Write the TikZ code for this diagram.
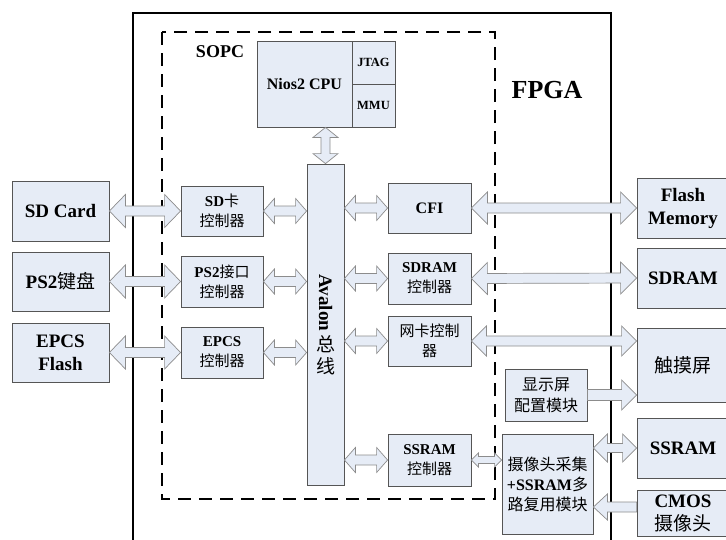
\documentclass[tikz,border=0pt]{standalone}
\usepackage{fontspec}
\setmainfont{Liberation Serif}
\newfontfamily\cjk{Noto Sans CJK SC}
\usepackage{graphicx}
\usepackage{xcolor}
\usetikzlibrary{calc}

\definecolor{boxfill}{HTML}{E6ECF6}
\definecolor{boxline}{HTML}{555555}
\definecolor{arrline}{HTML}{8C8C8C}

\newcommand{\zhtxt}[1]{{\cjk\mdseries #1}}
\newcommand{\fsz}[2]{\fontsize{#1}{#2}\selectfont}

% block arrows: ends, shaft half width, head half width, head length
\newcommand{\dblarrow}[5]{%
  \draw[blockarrow] (#1) -- ($(#1)!#5!(#2)!#4!90:(#2)$)
    -- ($(#1)!#5!(#2)!#3!90:(#2)$) -- ($(#2)!#5!(#1)!#3!-90:(#1)$)
    -- ($(#2)!#5!(#1)!#4!-90:(#1)$) -- (#2)
    -- ($(#2)!#5!(#1)!#4!90:(#1)$) -- ($(#2)!#5!(#1)!#3!90:(#1)$)
    -- ($(#1)!#5!(#2)!#3!-90:(#2)$) -- ($(#1)!#5!(#2)!#4!-90:(#2)$) -- cycle;}
\newcommand{\onearrow}[5]{%
  \draw[blockarrow] ($(#1)!#3!90:(#2)$) -- ($(#2)!#5!(#1)!#3!-90:(#1)$)
    -- ($(#2)!#5!(#1)!#4!-90:(#1)$) -- (#2)
    -- ($(#2)!#5!(#1)!#4!90:(#1)$) -- ($(#2)!#5!(#1)!#3!90:(#1)$)
    -- ($(#1)!#3!-90:(#2)$) -- cycle;}

\begin{document}
\begin{tikzpicture}[x=1pt, y=-1pt,
    module/.style={rectangle, draw=boxline, fill=boxfill, line width=0.8pt, inner sep=0pt, align=center, font=\bfseries\fsz{15}{20}},
    ctrl/.style={module, minimum width=82pt, minimum height=50pt},
    device/.style={module, minimum width=97pt, minimum height=60pt, font=\bfseries\fsz{19}{23}},
    blockarrow/.style={draw=arrline, fill=boxfill, line width=0.7pt, line join=miter}
]
\useasboundingbox (0,0) rectangle (726,539);
\clip (0,0) rectangle (726,539);

% FPGA and SOPC boundaries
\draw[line width=2.2pt] (133,560) -- (133,13) -- (611,13) -- (611,560);
\draw[line width=1.3pt, dash pattern=on 13pt off 8pt] (162,32) rectangle (495,499);
\node[font=\bfseries\fsz{18}{20}] (sopc) at (220,52) {SOPC};
\node[font=\bfseries\fsz{26}{30}] (fpga) at (547,90) {FPGA};

% CPU
\node[module, minimum width=95pt, minimum height=86pt, font=\bfseries\fsz{16}{20}] (nios) at (304.5,84) {Nios2 CPU};
\node[module, minimum width=43pt, minimum height=43pt, font=\bfseries\fsz{12.5}{15}] (jtag) at (373.5,62.5) {JTAG};
\node[module, minimum width=43pt, minimum height=43pt, font=\bfseries\fsz{12.5}{15}] (mmu) at (373.5,105.5) {MMU};

% Avalon bus
\node[module, minimum width=37pt, minimum height=321pt, font=\bfseries\fsz{19}{22}] (avalon) at (325.5,324.5)
    {\rotatebox{-90}{Avalon}\\[3pt]\zhtxt{总}\\\zhtxt{线}};

% Devices outside, left
\node[device] (sdcard) at (60.5,211) {SD Card};
\node[device, minimum height=59pt] (ps2kb) at (60.5,281.5) {PS2\zhtxt{键盘}};
\node[device, minimum height=59pt] (epcsfl) at (60.5,352.5) {EPCS\\Flash};

% Controllers, left
\node[ctrl] (sdctrl) at (222,211) {SD\zhtxt{卡}\\\zhtxt{控制器}};
\node[ctrl, minimum height=51pt] (ps2ctrl) at (222,281.5) {PS2\zhtxt{接口}\\\zhtxt{控制器}};
\node[ctrl, minimum height=51pt] (epcsctrl) at (222,352.5) {EPCS\\\zhtxt{控制器}};

% Controllers, right
\node[ctrl, minimum width=83pt, font=\bfseries\fsz{16}{20}] (cfi) at (429.5,208) {CFI};
\node[ctrl, minimum width=83pt, minimum height=51pt] (sdramctrl) at (429.5,278.5) {SDRAM\\\zhtxt{控制器}};
\node[ctrl, minimum width=83pt] (nicctrl) at (429.5,341) {\zhtxt{网卡控制}\\\zhtxt{器}};
\node[ctrl, minimum width=83pt, minimum height=52pt] (ssramctrl) at (429.5,460) {SSRAM\\\zhtxt{控制器}};

% Modules outside SOPC
\node[ctrl, minimum height=52pt, font=\bfseries\fsz{16}{21}] (disp) at (546,395) {\zhtxt{显示屏}\\\zhtxt{配置模块}};
\node[ctrl, minimum width=91pt, minimum height=100pt, font=\bfseries\fsz{16}{20}] (cam) at (547.5,484)
    {\zhtxt{摄像头采集}\\+SSRAM\zhtxt{多}\\\zhtxt{路复用模块}};

% Devices outside, right
\node[device, minimum width=92pt] (flash) at (683,208) {Flash\\Memory};
\node[device, minimum width=92pt] (sdram) at (683,278) {SDRAM};
\node[device, minimum width=92pt, minimum height=74pt] (touch) at (683,365) {\zhtxt{触摸屏}};
\node[device, minimum width=92pt] (ssram) at (683,448) {SSRAM};
\node[device, minimum width=92pt, minimum height=46pt] (cmos) at (683,513) {CMOS\\\zhtxt{摄像头}};

% Arrow ends
\coordinate (avL1) at (avalon.west |- sdctrl.east);
\coordinate (avL2) at (avalon.west |- ps2ctrl.east);
\coordinate (avL3) at (avalon.west |- epcsctrl.east);
\coordinate (avR1) at (avalon.east |- cfi.west);
\coordinate (avR2) at (avalon.east |- sdramctrl.west);
\coordinate (avR3) at (avalon.east |- nicctrl.west);
\coordinate (avR4) at (avalon.east |- ssramctrl.west);
\coordinate (cpuB) at (avalon.north |- nios.south);
\coordinate (tchN) at (touch.west |- nicctrl.east);
\coordinate (tchD) at (touch.west |- disp.east);
\coordinate (camS) at (cam.west |- ssramctrl.east);
\coordinate (camR1) at (cam.east |- ssram.west);
\coordinate (cmosL) at ([yshift=6pt]cmos.west);
\coordinate (camR2) at (cam.east |- cmosL);

% Left connections
\dblarrow{sdcard.east}{sdctrl.west}{5pt}{16.5pt}{16pt}
\dblarrow{ps2kb.east}{ps2ctrl.west}{5pt}{16.5pt}{16pt}
\dblarrow{epcsfl.east}{epcsctrl.west}{5pt}{16.5pt}{16pt}
\dblarrow{sdctrl.east}{avL1}{5pt}{12.5pt}{11pt}
\dblarrow{ps2ctrl.east}{avL2}{5pt}{12.5pt}{11pt}
\dblarrow{epcsctrl.east}{avL3}{5pt}{12.5pt}{11pt}

% CPU connection
\dblarrow{cpuB}{avalon.north}{4.5pt}{12.5pt}{10pt}

% Right connections
\dblarrow{avR1}{cfi.west}{5pt}{12.5pt}{11pt}
\dblarrow{avR2}{sdramctrl.west}{5pt}{12.5pt}{11pt}
\dblarrow{avR3}{nicctrl.west}{5pt}{12.5pt}{11pt}
\dblarrow{avR4}{ssramctrl.west}{5pt}{12.5pt}{11pt}
\dblarrow{cfi.east}{flash.west}{5pt}{16pt}{16pt}
\dblarrow{sdramctrl.east}{sdram.west}{5pt}{16pt}{16pt}
\dblarrow{nicctrl.east}{tchN}{5pt}{15pt}{15pt}
\onearrow{disp.east}{tchD}{5.5pt}{15pt}{15pt}
\dblarrow{ssramctrl.east}{camS}{3.5pt}{7pt}{7pt}
\dblarrow{camR1}{ssram.west}{4.5pt}{14pt}{14pt}
\onearrow{cmosL}{camR2}{5pt}{13pt}{14pt}
\end{tikzpicture}
\end{document}
